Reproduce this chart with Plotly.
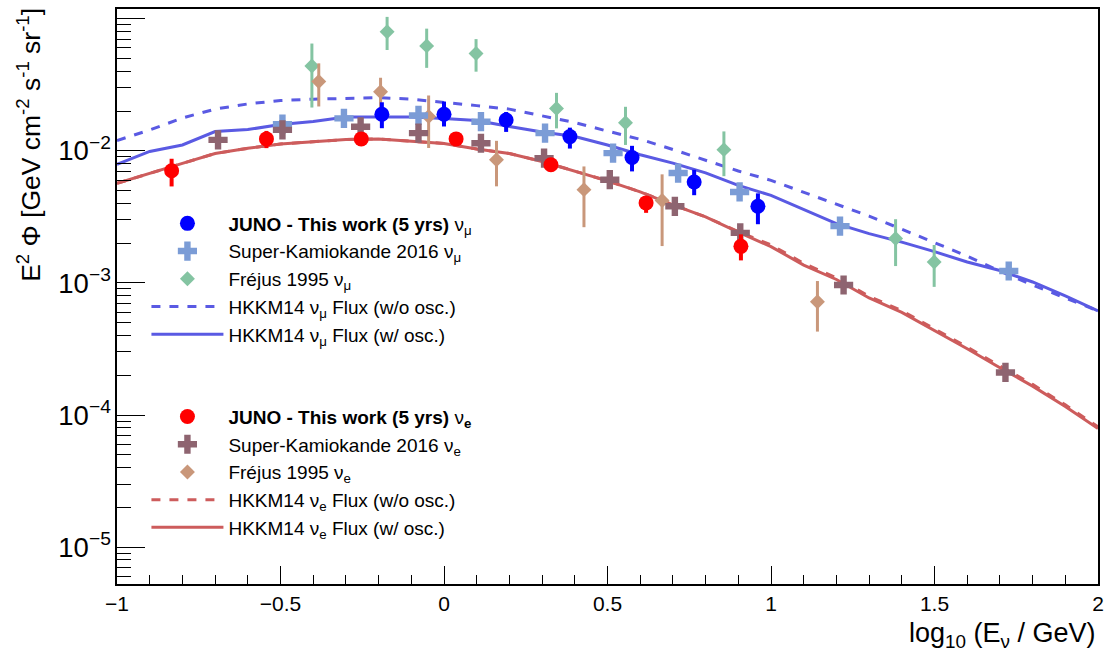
import plotly.graph_objects as go

# ---------------- data ----------------
# HKKM14 model curves (x = log10(E/GeV))
curve_x = [-1.0, -0.9, -0.8, -0.7, -0.6, -0.5, -0.4, -0.3, -0.2, -0.1, 0.0,
           0.1, 0.2, 0.3, 0.4, 0.5, 0.6, 0.7, 0.8, 0.9, 1.0,
           1.1, 1.2, 1.3, 1.4, 1.5, 1.6, 1.7, 1.8, 1.9, 2.0]
hkkm_mu_noosc = [0.01196, 0.01435, 0.01770, 0.02066, 0.02262, 0.02403, 0.02458, 0.02501, 0.02523, 0.02458, 0.02333,
                 0.02196, 0.02066, 0.01846, 0.01634, 0.01408, 0.01221, 0.01023, 0.00848, 0.00703, 0.00597,
                 0.00485, 0.00398, 0.00320, 0.00255, 0.002024, 0.001595, 0.001229, 0.000964, 0.000769, 0.000614]
hkkm_mu_osc = [0.00788, 0.00988, 0.01106, 0.01398, 0.01447, 0.01578, 0.01663, 0.01798, 0.01798, 0.01798, 0.01752,
               0.01692, 0.01525, 0.01386, 0.01282, 0.01106, 0.00933, 0.00806, 0.00681, 0.00547, 0.00460,
               0.00361, 0.00281, 0.00236, 0.002034, 0.001725, 0.001438, 0.001240, 0.001016, 0.000796, 0.000614]
hkkm_e_osc = [0.00567, 0.00678, 0.00802, 0.00954, 0.01044, 0.01125, 0.01175, 0.01217, 0.01227, 0.01179, 0.01137,
              0.01032, 0.00954, 0.00830, 0.00705, 0.00592, 0.00489, 0.00390, 0.00316, 0.00242, 0.001881,
              0.001365, 0.001061, 0.000769, 0.000598, 0.000438, 0.000317, 0.000228, 0.0001655, 0.0001159, 0.0000791]
hkkm_e_noosc = [0.00567, 0.00678, 0.00802, 0.00954, 0.01044, 0.01125, 0.01175, 0.01217, 0.01227, 0.01179, 0.01137,
                0.01032, 0.00954, 0.00830, 0.00705, 0.00592, 0.00489, 0.00390, 0.00316, 0.00244, 0.001940,
                0.001405, 0.001092, 0.000792, 0.000616, 0.000452, 0.000327, 0.000235, 0.0001705, 0.0001195, 0.0000815]

# JUNO (this work, 5 yrs)
juno_mu_x = [-0.19, 0.0, 0.19, 0.385, 0.575, 0.765, 0.96]
juno_mu_y = [0.0189, 0.0189, 0.0171, 0.0128, 0.0089, 0.0058, 0.0038]
juno_mu_err_up = [0.00438, 0.00467, 0.00255, 0.00216, 0.00200, 0.00138, 0.00096]
juno_mu_err_dn = [0.00408, 0.00363, 0.00321, 0.00241, 0.00192, 0.00119, 0.00102]

juno_e_x = [-0.833, -0.543, -0.253, 0.037, 0.327, 0.618, 0.908]
juno_e_y = [0.00706, 0.0123, 0.0123, 0.0123, 0.00784, 0.00403, 0.00189]
juno_e_err_up = [0.00164, 0.00183, 0.00112, 0.00112, 0.00071, 0.00044, 0.00044]
juno_e_err_dn = [0.00169, 0.00183, 0.00102, 0.00102, 0.00065, 0.00064, 0.00041]

# Super-Kamiokande 2016
sk_mu_x = [-0.494, -0.306, -0.078, 0.113, 0.309, 0.517, 0.716, 0.904, 1.211, 1.727]
sk_mu_y = [0.0159, 0.0176, 0.0185, 0.0166, 0.0136, 0.00959, 0.00678, 0.00488, 0.00269, 0.00123]
sk_e_x = [-0.691, -0.494, -0.255, -0.078, 0.113, 0.306, 0.507, 0.706, 0.906, 1.222, 1.717]
sk_e_y = [0.0121, 0.0144, 0.0152, 0.0136, 0.0114, 0.0088, 0.00604, 0.0038, 0.00239, 0.000964, 0.00021]

# Frejus 1995
fr_mu_x = [-0.404, -0.174, -0.053, 0.098, 0.344, 0.555, 0.856, 1.381, 1.499]
fr_mu_y = [0.0438, 0.0795, 0.0622, 0.0545, 0.0209, 0.0163, 0.0102, 0.00217, 0.00144]
fr_mu_err_up = [0.0210, 0.0236, 0.0218, 0.0155, 0.00654, 0.00522, 0.00381, 0.000864, 0.000495]
fr_mu_err_dn = [0.02256, 0.02162, 0.01978, 0.01482, 0.00612, 0.00523, 0.00378, 0.000829, 0.000507]

fr_e_x = [-0.383, -0.194, -0.047, 0.1605, 0.428, 0.667, 1.142]
fr_e_y = [0.0334, 0.0280, 0.0182, 0.00855, 0.00508, 0.00420, 0.000721]
fr_e_err_up = [0.01249, 0.0077, 0.00801, 0.00334, 0.00253, 0.00243, 0.000312]
fr_e_err_dn = [0.01176, 0.00706, 0.0077, 0.00317, 0.00244, 0.0023, 0.000293]

# ---------------- styles ----------------
C_JUNO_MU = "#0000ff"
C_JUNO_E = "#ff0000"
C_SK_MU = "#7b9cd6"
C_SK_E = "#8e6470"
C_FR_MU = "#84c4a2"
C_FR_E = "#c9977a"
C_HK_MU = "#5a5ae3"
C_HK_E = "#cd5c5c"
FONT = "Liberation Sans, Arial, Helvetica, sans-serif"

fig = go.Figure()

def line(x, y, name, color, dash, legend, rank):
    fig.add_trace(go.Scatter(x=x, y=y, mode="lines", name=name,
                             line=dict(color=color, width=3, dash=dash),
                             legend=legend, legendrank=rank, legendgroup=name))

def pts(x, y, name, color, symbol, size, legend, rank, up=None, dn=None, thick=3):
    ey = None
    if up is not None:
        ey = dict(type="data", symmetric=False, array=up, arrayminus=dn,
                  color=color, thickness=thick, width=0)
    fig.add_trace(go.Scatter(x=x, y=y, mode="markers", name=name,
                             marker=dict(color=color, symbol=symbol, size=size, line=dict(width=0)),
                             error_y=ey, legend=legend, legendrank=rank, legendgroup=name))

nu_mu = "ν<sub>μ</sub>"
nu_e = "ν<sub>e</sub>"

line(curve_x, hkkm_mu_noosc, f"HKKM14 {nu_mu} Flux (w/o osc.)", C_HK_MU, "dash", "legend", 4)
line(curve_x, hkkm_mu_osc, f"HKKM14 {nu_mu} Flux (w/ osc.)", C_HK_MU, "solid", "legend", 5)
line(curve_x, hkkm_e_noosc, f"HKKM14 {nu_e} Flux (w/o osc.)", C_HK_E, "dash", "legend2", 4)
line(curve_x, hkkm_e_osc, f"HKKM14 {nu_e} Flux (w/ osc.)", C_HK_E, "solid", "legend2", 5)

pts(fr_mu_x, fr_mu_y, f"Fréjus 1995 {nu_mu}", C_FR_MU, "diamond", 11.5, "legend", 3, fr_mu_err_up, fr_mu_err_dn, 3)
pts(fr_e_x, fr_e_y, f"Fréjus 1995 {nu_e}", C_FR_E, "diamond", 11.5, "legend2", 3, fr_e_err_up, fr_e_err_dn, 3)
pts(sk_mu_x, sk_mu_y, f"Super-Kamiokande 2016 {nu_mu}", C_SK_MU, "cross", 16, "legend", 2)
pts(sk_e_x, sk_e_y, f"Super-Kamiokande 2016 {nu_e}", C_SK_E, "cross", 16, "legend2", 2)
pts(juno_mu_x, juno_mu_y, f"<b>JUNO - This work (5 yrs)</b> {nu_mu}", C_JUNO_MU, "circle", 15, "legend", 1, juno_mu_err_up, juno_mu_err_dn, 4)
pts(juno_e_x, juno_e_y, f"<b>JUNO - This work (5 yrs)</b> ν<sub><b>e</b></sub>", C_JUNO_E, "circle", 15, "legend2", 1, juno_e_err_up, juno_e_err_dn, 4)

legend_common = dict(font=dict(family=FONT, size=19, color="black"), bgcolor="rgba(0,0,0,0)",
                     borderwidth=0, itemwidth=72, tracegroupgap=9, xanchor="left", yanchor="top",
                     traceorder="normal")

fig.update_layout(
    width=1111, height=656, autosize=False,
    margin=dict(l=117, r=11, t=7, b=72),
    paper_bgcolor="white", plot_bgcolor="white",
    font=dict(family=FONT, size=20, color="black"),
    showlegend=True,
    legend=dict(x=0.03, y=0.66, **legend_common),
    legend2=dict(x=0.03, y=0.324, **legend_common),
    xaxis=dict(range=[-1, 2], dtick=0.5, tick0=0, ticks="inside", ticklen=18, tickwidth=1,
               tickcolor="black", showline=True, linecolor="black", linewidth=1.5, mirror=True,
               showgrid=False, zeroline=False,
               tickfont=dict(family=FONT, size=21),
               minor=dict(dtick=0.1, ticks="inside", ticklen=9, tickcolor="black", showgrid=False)),
    yaxis=dict(type="log", range=[-5.279, -0.927], dtick=1, exponentformat="power",
               ticks="inside", ticklen=28, tickwidth=1, tickcolor="black",
               showline=True, linecolor="black", linewidth=1.5, mirror=True,
               showgrid=False, zeroline=False,
               tickfont=dict(family=FONT, size=22),
               minor=dict(dtick="D1", ticks="inside", ticklen=14, tickcolor="black", showgrid=False)),
)

fig.add_annotation(xref="paper", yref="paper", x=1.0, y=-0.055, xanchor="right", yanchor="top",
                   text="log<sub>10</sub> (E<sub>ν</sub> / GeV)", showarrow=False,
                   font=dict(family=FONT, size=27, color="black"))
fig.add_annotation(xref="paper", yref="paper", x=-0.09, y=1.005, xanchor="center", yanchor="top",
                   textangle=-90, text="E<sup>2</sup> Φ [GeV cm<sup>-2</sup> s<sup>-1</sup> sr<sup>-1</sup>]",
                   showarrow=False, font=dict(family=FONT, size=26.5, color="black"))

fig.write_html("out.html", config={"displayModeBar": False},
               post_script="document.body.style.margin='0px';document.body.style.padding='0px';")
